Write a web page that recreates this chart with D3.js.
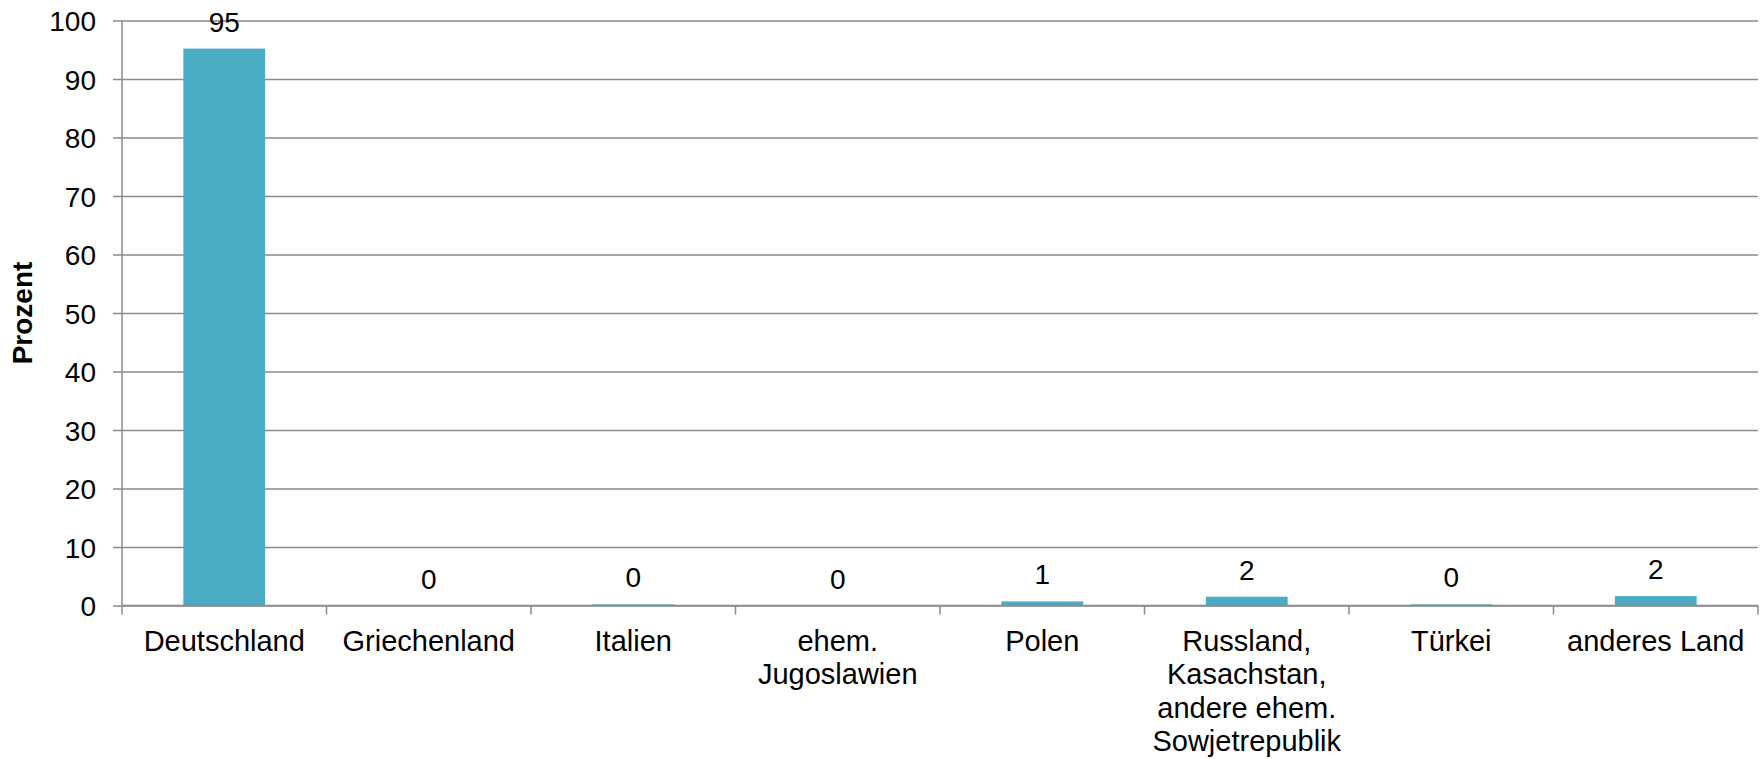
<!DOCTYPE html>
<html>
<head>
<meta charset="utf-8">
<script src="https://d3js.org/d3.v7.min.js"></script>
<style>
  body { margin: 0; background: #fff; overflow: hidden; }
  svg { display: block; font-family: "Liberation Sans", Arial, sans-serif; }
</style>
</head>
<body>
<svg class="chart"></svg>
<script>
// data
const categories = ['Deutschland', 'Griechenland', 'Italien', 'ehem. Jugoslawien', 'Polen',
	'Russland, Kasachstan, andere ehem. Sowjetrepublik', 'Türkei', 'anderes Land'];
const labelLines = [
	['Deutschland'],
	['Griechenland'],
	['Italien'],
	['ehem.', 'Jugoslawien'],
	['Polen'],
	['Russland,', 'Kasachstan,', 'andere ehem.', 'Sowjetrepublik'],
	['Türkei'],
	['anderes Land']
];
const values = [95.2, 0, 0.2, 0, 0.7, 1.5, 0.2, 1.6];
const yTicks = [0, 10, 20, 30, 40, 50, 60, 70, 80, 90, 100];
const yLabel = 'Prozent';

const svg = d3.select('.chart')
	.attr('width', 1763)
	.attr('height', 759);

const width = +svg.attr('width');
const margin = { top: 20.5, right: 5, left: 122 };
const innerWidth = width - margin.left - margin.right;
const innerHeight = 605.5 - margin.top;
const fontSize = 28;
const gridColor = '#8a8a8a';

const data = categories.map((c, i) => ({ category: c, value: values[i], lines: labelLines[i] }));

const xScale = d3.scaleBand()
	.domain(categories)
	.range([0, innerWidth])
	.paddingInner(0.6)
	.paddingOuter(0.3);

const yScale = d3.scaleLinear()
	.domain([0, 100])
	.range([innerHeight, 0]);

const g = svg.append('g')
	.attr('transform', `translate(${margin.left}, ${margin.top})`);

// y axis with gridlines
const yAxisG = g.append('g')
	.call(d3.axisLeft(yScale)
		.tickValues(yTicks)
		.tickSize(9)
		.tickPadding(17));
yAxisG.select('.domain').remove();
yAxisG.selectAll('.tick line')
	.attr('x1', innerWidth)
	.attr('x2', -9)
	.attr('stroke', gridColor)
	.attr('stroke-width', 1.5);
yAxisG.selectAll('.tick text')
	.attr('font-size', fontSize)
	.attr('font-family', '"Liberation Sans", Arial, sans-serif')
	.attr('fill', '#000')
	.attr('dy', '0.36em');

// y axis line, runs down to the first x tick
g.append('line')
	.attr('x1', 0).attr('x2', 0)
	.attr('y1', 0).attr('y2', innerHeight + 9)
	.attr('stroke', gridColor)
	.attr('stroke-width', 1.5);

// bars
g.selectAll('rect.bar')
	.data(data)
	.enter()
	.append('rect')
		.attr('class', 'bar')
		.attr('x', d => xScale(d.category))
		.attr('y', d => yScale(d.value))
		.attr('width', xScale.bandwidth())
		.attr('height', d => innerHeight - yScale(d.value))
		.attr('fill', '#4bacc6');

// x axis baseline and category boundary ticks
const xAxisG = g.append('g')
	.attr('transform', `translate(0, ${innerHeight})`);
xAxisG.append('line')
	.attr('x1', 0).attr('x2', innerWidth)
	.attr('stroke', gridColor)
	.attr('stroke-width', 1.5);
const boundaries = d3.range(categories.length + 1).map(i => i * xScale.step());
xAxisG.selectAll('line.boundary')
	.data(boundaries.slice(1))
	.enter()
	.append('line')
		.attr('class', 'boundary')
		.attr('x1', d => d).attr('x2', d => d)
		.attr('y1', 0).attr('y2', 9)
		.attr('stroke', gridColor)
		.attr('stroke-width', 1.5);

// category labels, wrapped as in the reference
const catLabels = xAxisG.selectAll('text.cat')
	.data(data)
	.enter()
	.append('text')
		.attr('class', 'cat')
		.attr('text-anchor', 'middle')
		.attr('font-size', 29)
		.attr('transform', d => `translate(${xScale(d.category) + xScale.bandwidth() / 2}, 45)`);
catLabels.selectAll('tspan')
	.data(d => d.lines)
	.enter()
	.append('tspan')
		.attr('x', 0)
		.attr('y', (d, i) => i * 33.5)
		.text(d => d);

// value labels
g.selectAll('text.value')
	.data(data)
	.enter()
	.append('text')
		.attr('class', 'value')
		.attr('text-anchor', 'middle')
		.attr('font-size', fontSize)
		.attr('x', d => xScale(d.category) + xScale.bandwidth() / 2)
		.attr('y', d => yScale(d.value) - 17)
		.text(d => d3.format('.0f')(d.value));

// y axis title
svg.append('text')
	.attr('transform', `translate(32, ${margin.top + innerHeight / 2}) rotate(-90)`)
	.attr('text-anchor', 'middle')
	.attr('font-size', fontSize)
	.attr('font-weight', 'bold')
	.text(yLabel);
</script>
</body>
</html>
